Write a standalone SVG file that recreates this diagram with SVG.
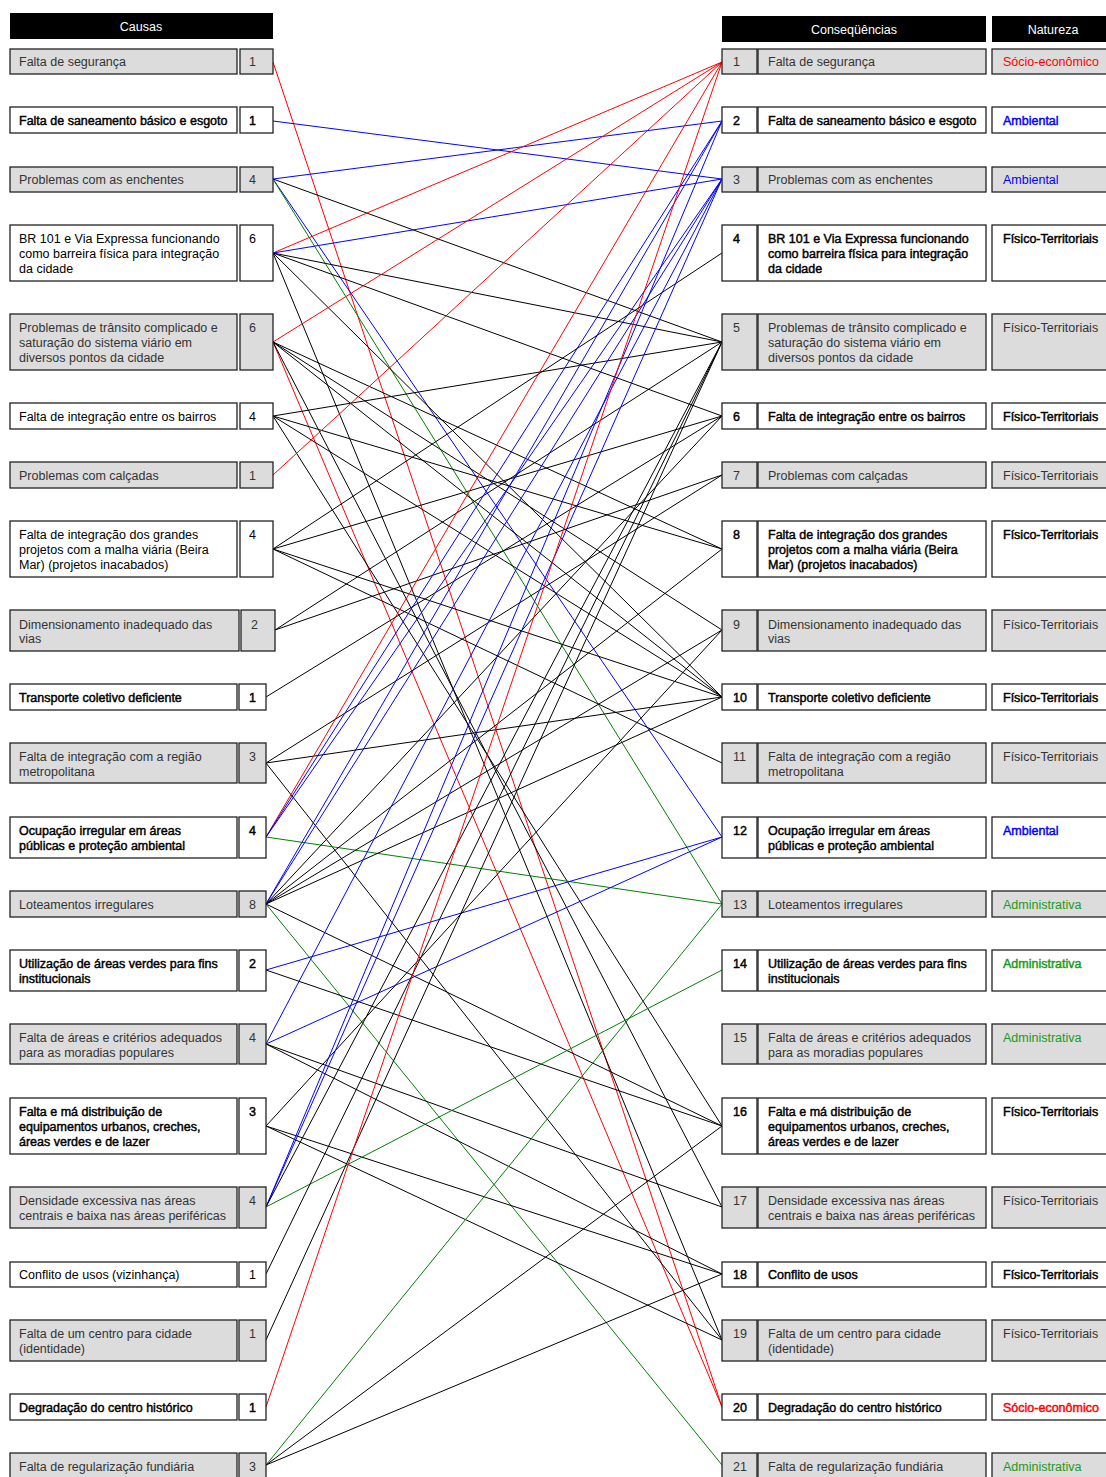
<svg xmlns="http://www.w3.org/2000/svg" width="1106" height="1477" viewBox="0 0 1106 1477">
<style>
text{font-family:"Liberation Sans",Arial,sans-serif;font-size:12.5px}
.g{fill:#dcdcdc;stroke:#222;stroke-width:1.3}
.w{fill:#fff;stroke:#222;stroke-width:1.3}
.hd{fill:#000}
.ht{fill:#fff;text-anchor:middle}
.tg{fill:#333}
.tw{fill:#000}
.bd{fill:#000;stroke:#000;stroke-width:.45}
.nr{fill:#f00}.nb{fill:#00f}.ng{fill:#1a9a1a}
.nrb{fill:#f00;stroke:#f00;stroke-width:.45}.nbb{fill:#00f;stroke:#00f;stroke-width:.45}.ngb{fill:#1a9a1a;stroke:#1a9a1a;stroke-width:.45}
#connectors line{stroke-width:1;fill:none}
.k{stroke:#000}.r{stroke:#f00}.b{stroke:#00f}.e{stroke:#008000}
</style>
<rect width="1106" height="1477" fill="#fff"/>

<!-- column headers -->
<g id="headers">
<rect class="hd" x="10" y="13" width="263" height="26"/>
<text class="ht" x="141" y="31">Causas</text>
<rect class="hd" x="722" y="16" width="264" height="26"/>
<text class="ht" x="854" y="34">Conseqüências</text>
<rect class="hd" x="992" y="16" width="122" height="26"/>
<text class="ht" x="1053" y="34">Natureza</text>
</g>

<!-- connectors: cause (left) to consequence (right) -->
<g id="connectors">
<line class="r" x1="273" y1="62" x2="722" y2="1407"/>
<line class="b" x1="273" y1="121" x2="722" y2="179"/>
<line class="b" x1="273" y1="179" x2="722" y2="121"/>
<line class="k" x1="273" y1="179" x2="722" y2="342"/>
<line class="b" x1="273" y1="179" x2="722" y2="837"/>
<line class="e" x1="273" y1="179" x2="722" y2="904"/>
<line class="r" x1="273" y1="253" x2="722" y2="62"/>
<line class="b" x1="273" y1="253" x2="722" y2="179"/>
<line class="k" x1="273" y1="253" x2="722" y2="342"/>
<line class="k" x1="273" y1="253" x2="722" y2="416"/>
<line class="k" x1="273" y1="253" x2="722" y2="697"/>
<line class="k" x1="273" y1="253" x2="722" y2="1340"/>
<line class="r" x1="273" y1="342" x2="722" y2="62"/>
<line class="r" x1="273" y1="342" x2="722" y2="1407"/>
<line class="k" x1="273" y1="342" x2="722" y2="549"/>
<line class="k" x1="273" y1="342" x2="722" y2="630"/>
<line class="k" x1="273" y1="342" x2="722" y2="697"/>
<line class="k" x1="273" y1="342" x2="722" y2="1207"/>
<line class="k" x1="273" y1="416" x2="722" y2="342"/>
<line class="k" x1="273" y1="416" x2="722" y2="549"/>
<line class="k" x1="273" y1="416" x2="722" y2="697"/>
<line class="k" x1="273" y1="416" x2="722" y2="1126"/>
<line class="r" x1="273" y1="475" x2="722" y2="62"/>
<line class="k" x1="273" y1="549" x2="722" y2="253"/>
<line class="k" x1="273" y1="549" x2="722" y2="416"/>
<line class="k" x1="273" y1="549" x2="722" y2="697"/>
<line class="k" x1="273" y1="549" x2="722" y2="763"/>
<line class="k" x1="275" y1="630" x2="722" y2="342"/>
<line class="k" x1="275" y1="630" x2="722" y2="475"/>
<line class="k" x1="266" y1="697" x2="722" y2="416"/>
<line class="k" x1="266" y1="763" x2="722" y2="475"/>
<line class="k" x1="266" y1="763" x2="722" y2="697"/>
<line class="k" x1="266" y1="763" x2="722" y2="1340"/>
<line class="r" x1="266" y1="837" x2="722" y2="62"/>
<line class="b" x1="266" y1="837" x2="722" y2="121"/>
<line class="b" x1="266" y1="837" x2="722" y2="179"/>
<line class="e" x1="266" y1="837" x2="722" y2="904"/>
<line class="e" x1="266" y1="904" x2="722" y2="1465"/>
<line class="b" x1="266" y1="904" x2="722" y2="121"/>
<line class="b" x1="266" y1="904" x2="722" y2="179"/>
<line class="k" x1="266" y1="904" x2="722" y2="416"/>
<line class="k" x1="266" y1="904" x2="722" y2="549"/>
<line class="k" x1="266" y1="904" x2="722" y2="630"/>
<line class="k" x1="266" y1="904" x2="722" y2="697"/>
<line class="k" x1="266" y1="904" x2="722" y2="1126"/>
<line class="b" x1="266" y1="970" x2="722" y2="837"/>
<line class="k" x1="266" y1="970" x2="722" y2="1126"/>
<line class="b" x1="266" y1="1044" x2="722" y2="179"/>
<line class="b" x1="266" y1="1044" x2="722" y2="837"/>
<line class="k" x1="266" y1="1044" x2="722" y2="1207"/>
<line class="k" x1="266" y1="1044" x2="722" y2="1274"/>
<line class="k" x1="266" y1="1126" x2="722" y2="630"/>
<line class="k" x1="266" y1="1126" x2="722" y2="1274"/>
<line class="k" x1="266" y1="1126" x2="722" y2="1340"/>
<line class="b" x1="266" y1="1207" x2="722" y2="121"/>
<line class="b" x1="266" y1="1207" x2="722" y2="179"/>
<line class="e" x1="266" y1="1207" x2="722" y2="970"/>
<line class="k" x1="266" y1="1207" x2="722" y2="342"/>
<line class="k" x1="266" y1="1274" x2="722" y2="342"/>
<line class="k" x1="266" y1="1340" x2="722" y2="342"/>
<line class="r" x1="266" y1="1407" x2="722" y2="62"/>
<line class="e" x1="266" y1="1465" x2="722" y2="904"/>
<line class="k" x1="266" y1="1465" x2="722" y2="1126"/>
<line class="k" x1="266" y1="1465" x2="722" y2="1274"/>
</g>

<!-- causes -->
<g id="cause-1"><rect class="g" x="10" y="49" width="227" height="25"/><rect class="g" x="240" y="49" width="33" height="25"/><text class="tg" x="19" y="66">Falta de segurança</text><text class="tg" x="249" y="66">1</text></g>
<g id="cause-2"><rect class="w" x="10" y="107" width="227" height="26"/><rect class="w" x="240" y="107" width="33" height="26"/><text class="bd" x="19" y="124.5">Falta de saneamento básico e esgoto</text><text class="bd" x="249" y="124.5">1</text></g>
<g id="cause-3"><rect class="g" x="10" y="167" width="227" height="25"/><rect class="g" x="240" y="167" width="33" height="25"/><text class="tg" x="19" y="184">Problemas com as enchentes</text><text class="tg" x="249" y="184">4</text></g>
<g id="cause-4"><rect class="w" x="10" y="225" width="227" height="56"/><rect class="w" x="240" y="225" width="33" height="56"/><text class="tw" x="19" y="243">BR 101 e Via Expressa funcionando<tspan x="19" dy="15">como barreira física para integração</tspan><tspan x="19" dy="15">da cidade</tspan></text><text class="tw" x="249" y="243">6</text></g>
<g id="cause-5"><rect class="g" x="10" y="314" width="227" height="56"/><rect class="g" x="240" y="314" width="33" height="56"/><text class="tg" x="19" y="332">Problemas de trânsito complicado e<tspan x="19" dy="15">saturação do sistema viário em</tspan><tspan x="19" dy="15">diversos pontos da cidade</tspan></text><text class="tg" x="249" y="332">6</text></g>
<g id="cause-6"><rect class="w" x="10" y="403" width="227" height="26"/><rect class="w" x="240" y="403" width="33" height="26"/><text class="tw" x="19" y="420.5">Falta de integração entre os bairros</text><text class="tw" x="249" y="420.5">4</text></g>
<g id="cause-7"><rect class="g" x="10" y="462" width="227" height="26"/><rect class="g" x="240" y="462" width="33" height="26"/><text class="tg" x="19" y="479.5">Problemas com calçadas</text><text class="tg" x="249" y="479.5">1</text></g>
<g id="cause-8"><rect class="w" x="10" y="521" width="227" height="56"/><rect class="w" x="240" y="521" width="33" height="56"/><text class="tw" x="19" y="539">Falta de integração dos grandes<tspan x="19" dy="15">projetos com a malha viária (Beira</tspan><tspan x="19" dy="15">Mar) (projetos inacabados)</tspan></text><text class="tw" x="249" y="539">4</text></g>
<g id="cause-9"><rect class="g" x="10" y="610" width="229" height="41"/><rect class="g" x="241" y="610" width="34" height="41"/><text class="tg" x="19" y="628.5">Dimensionamento inadequado das<tspan x="19" dy="14.5">vias</tspan></text><text class="tg" x="251" y="628.5">2</text></g>
<g id="cause-10"><rect class="w" x="10" y="684" width="227" height="26"/><rect class="w" x="239" y="684" width="27" height="26"/><text class="bd" x="19" y="701.5">Transporte coletivo deficiente</text><text class="bd" x="249" y="701.5">1</text></g>
<g id="cause-11"><rect class="g" x="10" y="743" width="227" height="40"/><rect class="g" x="239" y="743" width="27" height="40"/><text class="tg" x="19" y="761">Falta de integração com a região<tspan x="19" dy="14.5">metropolitana</tspan></text><text class="tg" x="249" y="761">3</text></g>
<g id="cause-12"><rect class="w" x="10" y="817" width="227" height="41"/><rect class="w" x="239" y="817" width="27" height="41"/><text class="bd" x="19" y="835">Ocupação irregular em áreas<tspan x="19" dy="14.5">públicas e proteção ambiental</tspan></text><text class="bd" x="249" y="835">4</text></g>
<g id="cause-13"><rect class="g" x="10" y="891" width="227" height="26"/><rect class="g" x="239" y="891" width="27" height="26"/><text class="tg" x="19" y="908.5">Loteamentos irregulares</text><text class="tg" x="249" y="908.5">8</text></g>
<g id="cause-14"><rect class="w" x="10" y="950" width="227" height="41"/><rect class="w" x="239" y="950" width="27" height="41"/><text class="bd" x="19" y="968">Utilização de áreas verdes para fins<tspan x="19" dy="14.5">institucionais</tspan></text><text class="bd" x="249" y="968">2</text></g>
<g id="cause-15"><rect class="g" x="10" y="1024" width="227" height="40"/><rect class="g" x="239" y="1024" width="27" height="40"/><text class="tg" x="19" y="1042">Falta de áreas e critérios adequados<tspan x="19" dy="14.5">para as moradias populares</tspan></text><text class="tg" x="249" y="1042">4</text></g>
<g id="cause-16"><rect class="w" x="10" y="1098" width="227" height="56"/><rect class="w" x="239" y="1098" width="27" height="56"/><text class="bd" x="19" y="1116">Falta e má distribuição de<tspan x="19" dy="15">equipamentos urbanos, creches,</tspan><tspan x="19" dy="15">áreas verdes e de lazer</tspan></text><text class="bd" x="249" y="1116">3</text></g>
<g id="cause-17"><rect class="g" x="10" y="1187" width="227" height="41"/><rect class="g" x="239" y="1187" width="27" height="41"/><text class="tg" x="19" y="1205">Densidade excessiva nas áreas<tspan x="19" dy="14.5">centrais e baixa nas áreas periféricas</tspan></text><text class="tg" x="249" y="1205">4</text></g>
<g id="cause-18"><rect class="w" x="10" y="1262" width="227" height="25"/><rect class="w" x="239" y="1262" width="27" height="25"/><text class="tw" x="19" y="1279">Conflito de usos (vizinhança)</text><text class="tw" x="249" y="1279">1</text></g>
<g id="cause-19"><rect class="g" x="10" y="1320" width="227" height="41"/><rect class="g" x="239" y="1320" width="27" height="41"/><text class="tg" x="19" y="1338">Falta de um centro para cidade<tspan x="19" dy="14.5">(identidade)</tspan></text><text class="tg" x="249" y="1338">1</text></g>
<g id="cause-20"><rect class="w" x="10" y="1394" width="227" height="26"/><rect class="w" x="239" y="1394" width="27" height="26"/><text class="bd" x="19" y="1411.5">Degradação do centro histórico</text><text class="bd" x="249" y="1411.5">1</text></g>
<g id="cause-21"><rect class="g" x="10" y="1453" width="227" height="26"/><rect class="g" x="239" y="1453" width="27" height="26"/><text class="tg" x="19" y="1470.5">Falta de regularização fundiária</text><text class="tg" x="249" y="1470.5">3</text></g>

<!-- consequences -->
<g id="cons-1"><rect class="g" x="722" y="49" width="35" height="25"/><rect class="g" x="758" y="49" width="228" height="25"/><rect class="g" x="992" y="49" width="122" height="25"/><text class="tg" x="733" y="66">1</text><text class="tg" x="768" y="66">Falta de segurança</text><text class="nr" x="1003" y="66">Sócio-econômico</text></g>
<g id="cons-2"><rect class="w" x="722" y="107" width="35" height="26"/><rect class="w" x="758" y="107" width="228" height="26"/><rect class="w" x="992" y="107" width="122" height="26"/><text class="bd" x="733" y="124.5">2</text><text class="bd" x="768" y="124.5">Falta de saneamento básico e esgoto</text><text class="nbb" x="1003" y="124.5">Ambiental</text></g>
<g id="cons-3"><rect class="g" x="722" y="167" width="35" height="25"/><rect class="g" x="758" y="167" width="228" height="25"/><rect class="g" x="992" y="167" width="122" height="25"/><text class="tg" x="733" y="184">3</text><text class="tg" x="768" y="184">Problemas com as enchentes</text><text class="nb" x="1003" y="184">Ambiental</text></g>
<g id="cons-4"><rect class="w" x="722" y="225" width="35" height="56"/><rect class="w" x="758" y="225" width="228" height="56"/><rect class="w" x="992" y="225" width="122" height="56"/><text class="bd" x="733" y="243">4</text><text class="bd" x="768" y="243">BR 101 e Via Expressa funcionando<tspan x="768" dy="15">como barreira física para integração</tspan><tspan x="768" dy="15">da cidade</tspan></text><text class="bd" x="1003" y="243">Físico-Territoriais</text></g>
<g id="cons-5"><rect class="g" x="722" y="314" width="35" height="56"/><rect class="g" x="758" y="314" width="228" height="56"/><rect class="g" x="992" y="314" width="122" height="56"/><text class="tg" x="733" y="332">5</text><text class="tg" x="768" y="332">Problemas de trânsito complicado e<tspan x="768" dy="15">saturação do sistema viário em</tspan><tspan x="768" dy="15">diversos pontos da cidade</tspan></text><text class="tg" x="1003" y="332">Físico-Territoriais</text></g>
<g id="cons-6"><rect class="w" x="722" y="403" width="35" height="26"/><rect class="w" x="758" y="403" width="228" height="26"/><rect class="w" x="992" y="403" width="122" height="26"/><text class="bd" x="733" y="420.5">6</text><text class="bd" x="768" y="420.5">Falta de integração entre os bairros</text><text class="bd" x="1003" y="420.5">Físico-Territoriais</text></g>
<g id="cons-7"><rect class="g" x="722" y="462" width="35" height="26"/><rect class="g" x="758" y="462" width="228" height="26"/><rect class="g" x="992" y="462" width="122" height="26"/><text class="tg" x="733" y="479.5">7</text><text class="tg" x="768" y="479.5">Problemas com calçadas</text><text class="tg" x="1003" y="479.5">Físico-Territoriais</text></g>
<g id="cons-8"><rect class="w" x="722" y="521" width="35" height="56"/><rect class="w" x="758" y="521" width="228" height="56"/><rect class="w" x="992" y="521" width="122" height="56"/><text class="bd" x="733" y="539">8</text><text class="bd" x="768" y="539">Falta de integração dos grandes<tspan x="768" dy="15">projetos com a malha viária (Beira</tspan><tspan x="768" dy="15">Mar) (projetos inacabados)</tspan></text><text class="bd" x="1003" y="539">Físico-Territoriais</text></g>
<g id="cons-9"><rect class="g" x="722" y="610" width="35" height="41"/><rect class="g" x="758" y="610" width="228" height="41"/><rect class="g" x="992" y="610" width="122" height="41"/><text class="tg" x="733" y="628.5">9</text><text class="tg" x="768" y="628.5">Dimensionamento inadequado das<tspan x="768" dy="14.5">vias</tspan></text><text class="tg" x="1003" y="628.5">Físico-Territoriais</text></g>
<g id="cons-10"><rect class="w" x="722" y="684" width="35" height="26"/><rect class="w" x="758" y="684" width="228" height="26"/><rect class="w" x="992" y="684" width="122" height="26"/><text class="bd" x="733" y="701.5">10</text><text class="bd" x="768" y="701.5">Transporte coletivo deficiente</text><text class="bd" x="1003" y="701.5">Físico-Territoriais</text></g>
<g id="cons-11"><rect class="g" x="722" y="743" width="35" height="40"/><rect class="g" x="758" y="743" width="228" height="40"/><rect class="g" x="992" y="743" width="122" height="40"/><text class="tg" x="733" y="761">11</text><text class="tg" x="768" y="761">Falta de integração com a região<tspan x="768" dy="14.5">metropolitana</tspan></text><text class="tg" x="1003" y="761">Físico-Territoriais</text></g>
<g id="cons-12"><rect class="w" x="722" y="817" width="35" height="41"/><rect class="w" x="758" y="817" width="228" height="41"/><rect class="w" x="992" y="817" width="122" height="41"/><text class="bd" x="733" y="835">12</text><text class="bd" x="768" y="835">Ocupação irregular em áreas<tspan x="768" dy="14.5">públicas e proteção ambiental</tspan></text><text class="nbb" x="1003" y="835">Ambiental</text></g>
<g id="cons-13"><rect class="g" x="722" y="891" width="35" height="26"/><rect class="g" x="758" y="891" width="228" height="26"/><rect class="g" x="992" y="891" width="122" height="26"/><text class="tg" x="733" y="908.5">13</text><text class="tg" x="768" y="908.5">Loteamentos irregulares</text><text class="ng" x="1003" y="908.5">Administrativa</text></g>
<g id="cons-14"><rect class="w" x="722" y="950" width="35" height="41"/><rect class="w" x="758" y="950" width="228" height="41"/><rect class="w" x="992" y="950" width="122" height="41"/><text class="bd" x="733" y="968">14</text><text class="bd" x="768" y="968">Utilização de áreas verdes para fins<tspan x="768" dy="14.5">institucionais</tspan></text><text class="ngb" x="1003" y="968">Administrativa</text></g>
<g id="cons-15"><rect class="g" x="722" y="1024" width="35" height="40"/><rect class="g" x="758" y="1024" width="228" height="40"/><rect class="g" x="992" y="1024" width="122" height="40"/><text class="tg" x="733" y="1042">15</text><text class="tg" x="768" y="1042">Falta de áreas e critérios adequados<tspan x="768" dy="14.5">para as moradias populares</tspan></text><text class="ng" x="1003" y="1042">Administrativa</text></g>
<g id="cons-16"><rect class="w" x="722" y="1098" width="35" height="56"/><rect class="w" x="758" y="1098" width="228" height="56"/><rect class="w" x="992" y="1098" width="122" height="56"/><text class="bd" x="733" y="1116">16</text><text class="bd" x="768" y="1116">Falta e má distribuição de<tspan x="768" dy="15">equipamentos urbanos, creches,</tspan><tspan x="768" dy="15">áreas verdes e de lazer</tspan></text><text class="bd" x="1003" y="1116">Físico-Territoriais</text></g>
<g id="cons-17"><rect class="g" x="722" y="1187" width="35" height="41"/><rect class="g" x="758" y="1187" width="228" height="41"/><rect class="g" x="992" y="1187" width="122" height="41"/><text class="tg" x="733" y="1205">17</text><text class="tg" x="768" y="1205">Densidade excessiva nas áreas<tspan x="768" dy="14.5">centrais e baixa nas áreas periféricas</tspan></text><text class="tg" x="1003" y="1205">Físico-Territoriais</text></g>
<g id="cons-18"><rect class="w" x="722" y="1262" width="35" height="25"/><rect class="w" x="758" y="1262" width="228" height="25"/><rect class="w" x="992" y="1262" width="122" height="25"/><text class="bd" x="733" y="1279">18</text><text class="bd" x="768" y="1279">Conflito de usos</text><text class="bd" x="1003" y="1279">Físico-Territoriais</text></g>
<g id="cons-19"><rect class="g" x="722" y="1320" width="35" height="41"/><rect class="g" x="758" y="1320" width="228" height="41"/><rect class="g" x="992" y="1320" width="122" height="41"/><text class="tg" x="733" y="1338">19</text><text class="tg" x="768" y="1338">Falta de um centro para cidade<tspan x="768" dy="14.5">(identidade)</tspan></text><text class="tg" x="1003" y="1338">Físico-Territoriais</text></g>
<g id="cons-20"><rect class="w" x="722" y="1394" width="35" height="26"/><rect class="w" x="758" y="1394" width="228" height="26"/><rect class="w" x="992" y="1394" width="122" height="26"/><text class="bd" x="733" y="1411.5">20</text><text class="bd" x="768" y="1411.5">Degradação do centro histórico</text><text class="nrb" x="1003" y="1411.5">Sócio-econômico</text></g>
<g id="cons-21"><rect class="g" x="722" y="1453" width="35" height="26"/><rect class="g" x="758" y="1453" width="228" height="26"/><rect class="g" x="992" y="1453" width="122" height="26"/><text class="tg" x="733" y="1470.5">21</text><text class="tg" x="768" y="1470.5">Falta de regularização fundiária</text><text class="ng" x="1003" y="1470.5">Administrativa</text></g>
</svg>
